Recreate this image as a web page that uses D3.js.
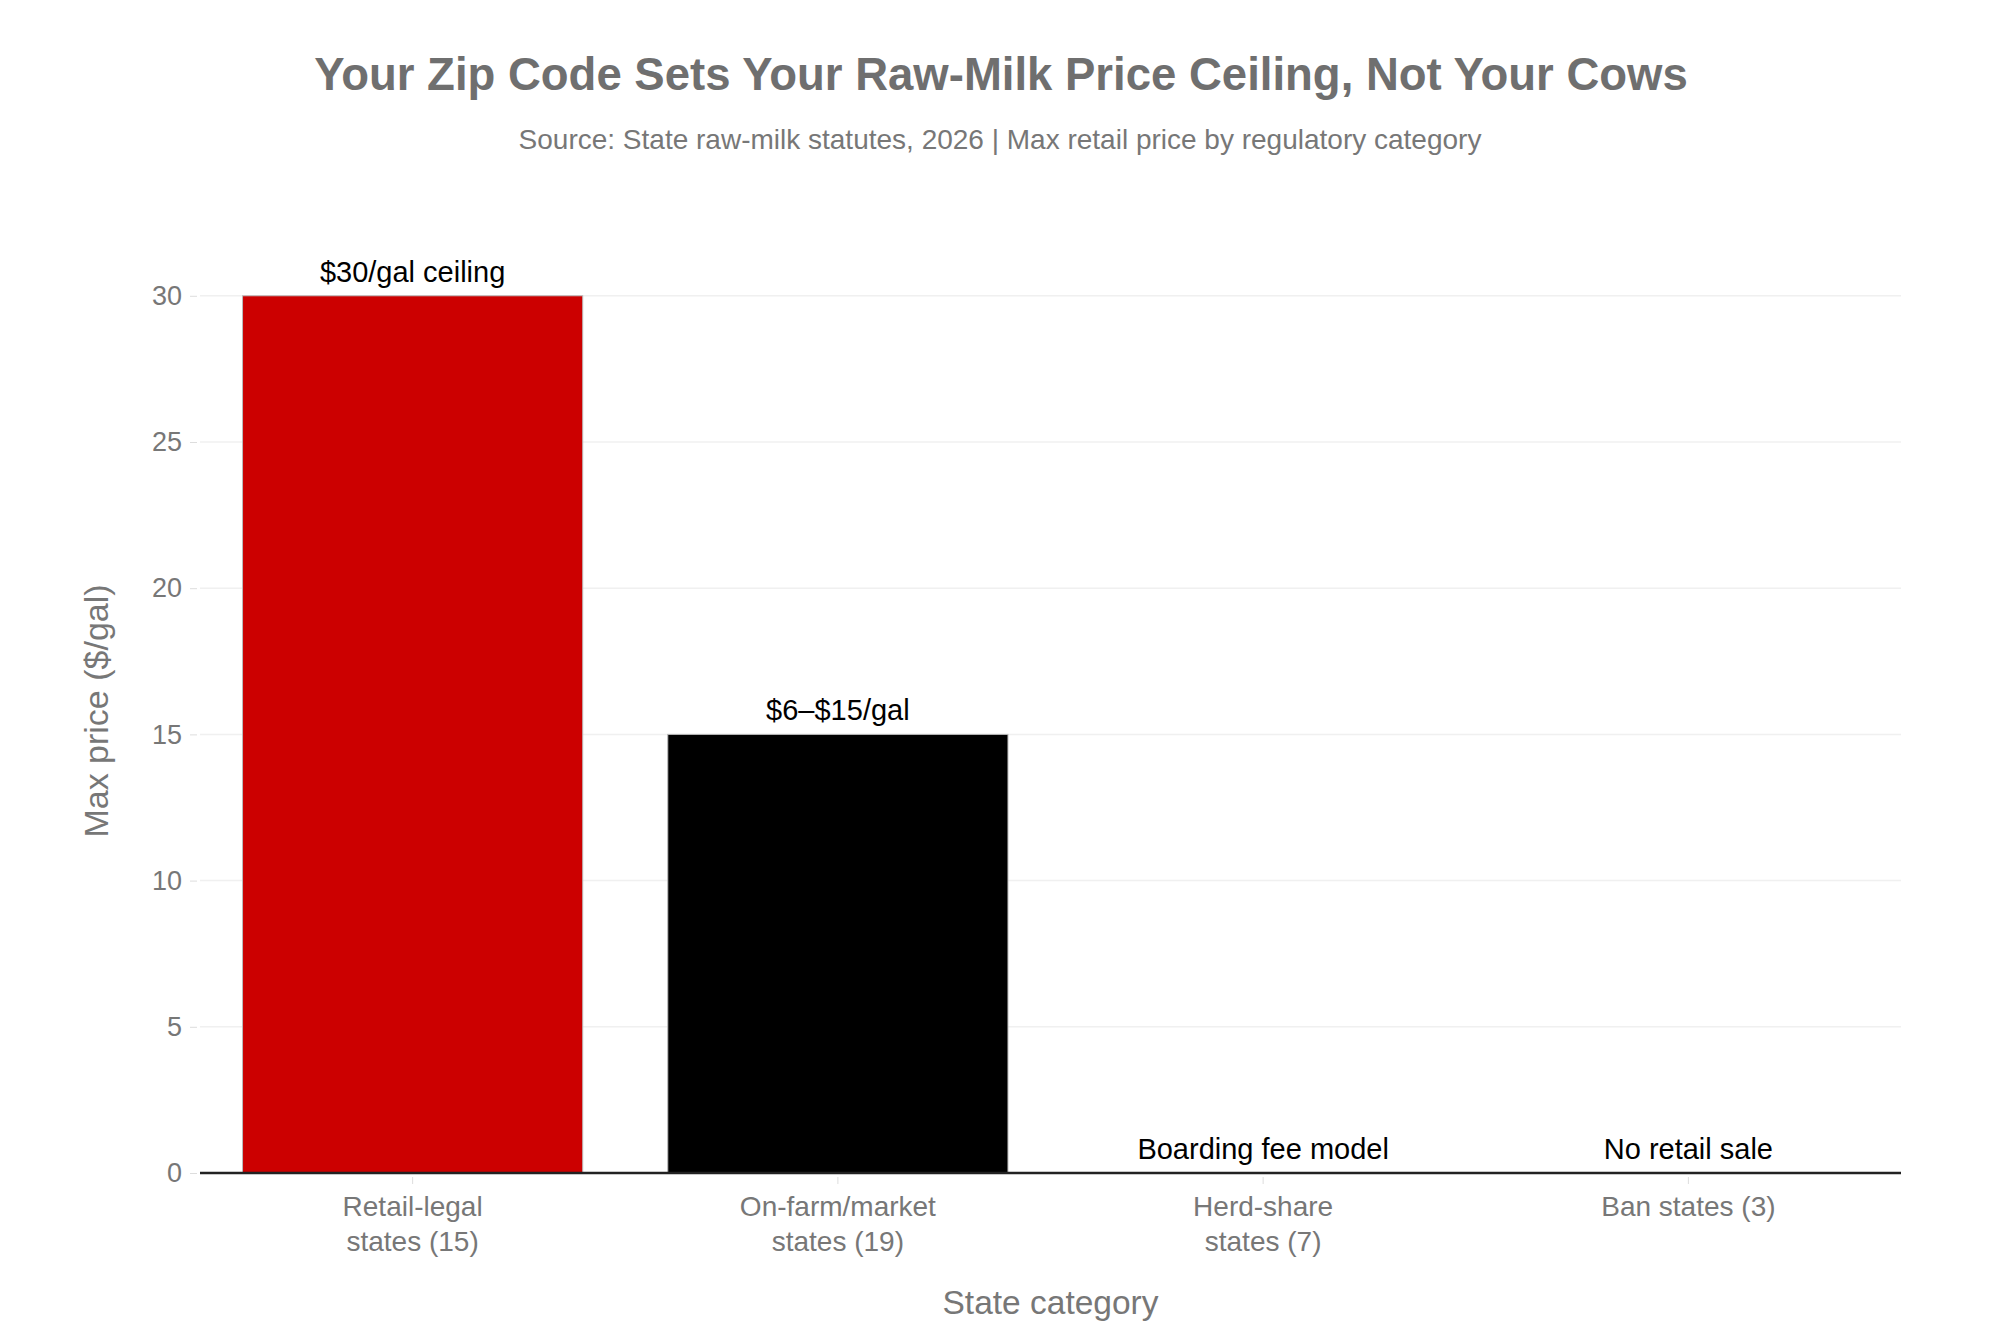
<!DOCTYPE html>
<html>
<head>
<meta charset="utf-8">
<script src="https://cdn.jsdelivr.net/npm/d3@7"></script>
<style>
  body { margin: 0; background: #fff; }
  svg text { font-family: "Liberation Sans", Arial, Helvetica, sans-serif; }
</style>
</head>
<body>
<svg id="chart" width="2000" height="1333"></svg>
<script>
// chart data
const categories = ["Retail-legal\nstates (15)", "On-farm/market\nstates (19)", "Herd-share\nstates (7)", "Ban states (3)"];
const maxPrice = [30, 15, 0, 0];
const barLabels = ["$30/gal ceiling", "$6\u2013$15/gal", "Boarding fee model", "No retail sale"];
const barColors = ["#cc0000", "#000000", "#000000", "#000000"];
const yTicks = [0, 5, 10, 15, 20, 25, 30];

const titleText = "Your Zip Code Sets Your Raw-Milk Price Ceiling, Not Your Cows";
const subtitleText = "Source: State raw-milk statutes, 2026 | Max retail price by regulatory category";

const svg = d3.select("#chart");
const margin = {left: 200, right: 99, top: 249, bottom: 160};
const width = +svg.attr("width");
const height = +svg.attr("height");

// scales
const x = d3.scaleBand()
    .domain(categories)
    .range([margin.left, width - margin.right])
    .paddingInner(0.2)
    .paddingOuter(0.1);

const y = d3.scaleLinear()
    .domain([0, 31.6])
    .range([height - margin.bottom, margin.top]);

// title + subtitle
svg.append("text")
    .attr("x", 1001)
    .attr("y", 90)
    .attr("text-anchor", "middle")
    .attr("font-size", 45.5)
    .attr("font-weight", "bold")
    .attr("fill", "#6f6f6f")
    .text(titleText);

svg.append("text")
    .attr("x", 1000)
    .attr("y", 149)
    .attr("text-anchor", "middle")
    .attr("font-size", 28)
    .attr("fill", "#777")
    .text(subtitleText);

// gridlines
svg.append("g")
    .selectAll("line")
    .data(yTicks.filter(d => d > 0))
    .enter().append("line")
    .attr("x1", margin.left)
    .attr("x2", width - margin.right)
    .attr("y1", d => y(d))
    .attr("y2", d => y(d))
    .attr("stroke", "#f0f0f0")
    .attr("stroke-width", 1.5);

// y axis
const yAxis = svg.append("g")
    .attr("transform", "translate(" + (margin.left - 3) + ",0)")
    .call(d3.axisLeft(y).tickValues(yTicks).tickSize(7).tickPadding(8));
yAxis.select(".domain").remove();
yAxis.selectAll(".tick line").attr("stroke", "#dddddd");
yAxis.selectAll(".tick text")
    .attr("font-size", 27)
    .attr("fill", "#777")
    .style("font-family", "'Liberation Sans', Arial, sans-serif");

// bars
svg.append("g")
    .selectAll("rect")
    .data(categories)
    .enter().append("rect")
    .attr("x", d => x(d))
    .attr("width", x.bandwidth())
    .attr("y", (d, i) => y(maxPrice[i]))
    .attr("height", (d, i) => y(0) - y(maxPrice[i]))
    .attr("fill", (d, i) => barColors[i])
    .attr("stroke", "#bbbbbb")
    .attr("stroke-width", 1);

// zero line
svg.append("line")
    .attr("x1", margin.left)
    .attr("x2", width - margin.right)
    .attr("y1", y(0))
    .attr("y2", y(0))
    .attr("stroke", "#222")
    .attr("stroke-width", 2.5);

// bar labels
svg.append("g")
    .selectAll("text")
    .data(categories)
    .enter().append("text")
    .attr("x", d => x(d) + x.bandwidth() / 2)
    .attr("y", (d, i) => y(maxPrice[i]) - 14)
    .attr("text-anchor", "middle")
    .attr("font-size", 29)
    .attr("fill", "#000")
    .text((d, i) => barLabels[i]);

// x axis ticks + labels
const xg = svg.append("g");
xg.selectAll("line")
    .data(categories)
    .enter().append("line")
    .attr("x1", d => x(d) + x.bandwidth() / 2)
    .attr("x2", d => x(d) + x.bandwidth() / 2)
    .attr("y1", y(0) + 4)
    .attr("y2", y(0) + 11)
    .attr("stroke", "#dddddd");

xg.selectAll("text")
    .data(categories)
    .enter().append("text")
    .attr("x", d => x(d) + x.bandwidth() / 2)
    .attr("y", y(0) + 43)
    .attr("text-anchor", "middle")
    .attr("font-size", 28)
    .attr("fill", "#777")
    .each(function(d) {
        const lines = d.split("\n");
        d3.select(this).selectAll("tspan")
            .data(lines)
            .enter().append("tspan")
            .attr("x", x(d) + x.bandwidth() / 2)
            .attr("dy", (l, i) => i === 0 ? 0 : 35)
            .text(l => l);
    });

// axis titles
svg.append("text")
    .attr("x", (margin.left + width - margin.right) / 2)
    .attr("y", 1314)
    .attr("text-anchor", "middle")
    .attr("font-size", 33.5)
    .attr("fill", "#777")
    .text("State category");

svg.append("text")
    .attr("transform", "translate(108," + ((y(0) + margin.top) / 2) + ") rotate(-90)")
    .attr("text-anchor", "middle")
    .attr("font-size", 34)
    .attr("fill", "#777")
    .text("Max price ($/gal)");
</script>
</body>
</html>
